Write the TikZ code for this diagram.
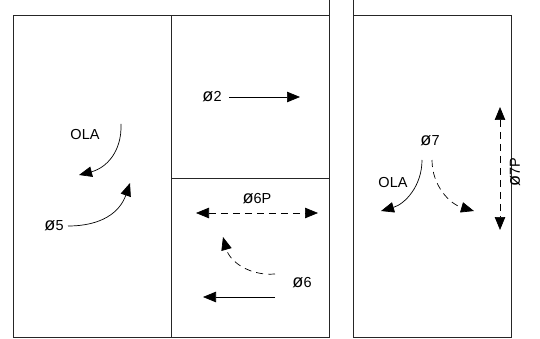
\documentclass[tikz,border=0pt]{standalone}
\usepackage{fontspec}
\setmainfont{Liberation Sans}
\usetikzlibrary{arrows.meta}
\newcommand{\diam}{\scalebox{1.25}{ø}}
\begin{document}
\begin{tikzpicture}[x=1pt,y=-1pt,
  frame/.style={line width=1pt,draw=black!85},
  lbl/.style={inner sep=0pt,font=\fontsize{14.5}{14.5}\selectfont},
  tip/.tip={Triangle[length=13pt,width=10.5pt]},
  arr/.style={line width=0.7pt,-tip},
  darr/.style={arr,dash pattern=on 7pt off 5pt},
  dbl/.style={line width=0.7pt,dash pattern=on 7pt off 5pt,tip-tip}]
\useasboundingbox (0,0) rectangle (540,339);
% frames
\draw[frame] (13,337.5) -- (13,16) -- (329,16);
\draw[frame] (329,0) -- (329,337.5) -- (13,337.5);
\draw[frame] (171,16) -- (171,337.5);
\draw[frame] (171,178) -- (329,178);
\draw[frame] (353,0) -- (353,337.5) -- (511,337.5) -- (511,16) -- (353,16);
% left room
\node[lbl] (ola1) at (85,135) {OLA};
\coordinate (ola1s) at (121,124);
\coordinate (ola1e) at (79,175);
\draw[arr] (ola1s) .. controls (122,152) and (106,168) .. (ola1e);
\node[lbl] (p5) at (54,226) {\diam5};
\coordinate (p5s) at (68,226);
\coordinate (p5e) at (130,183);
\draw[arr] (p5s) .. controls (102,226) and (120,212) .. (p5e);
% top middle
\node[lbl] (p2) at (212,97) {\diam2};
\coordinate (p2s) at (229,97);
\coordinate (p2e) at (300,97);
\draw[arr] (p2s) -- (p2e);
% bottom middle
\node[lbl] (p6p) at (257,199) {\diam6P};
\coordinate (p6pl) at (196,213);
\coordinate (p6pr) at (318,213);
\draw[dbl] (p6pl) -- (p6pr);
\node[lbl] (p6) at (302,283) {\diam6};
\coordinate (p6s) at (275,274);
\coordinate (p6e) at (223,237);
\draw[darr] (p6s) .. controls (250,276) and (230,262) .. (p6e);
\coordinate (p6ls) at (275,297);
\coordinate (p6le) at (203,297);
\draw[arr] (p6ls) -- (p6le);
% right room
\node[lbl] (p7) at (430,141) {\diam7};
\node[lbl] (ola2) at (393,183) {OLA};
\coordinate (p7as) at (422,160);
\coordinate (p7ae) at (381,211);
\draw[arr] (p7as) .. controls (422,186) and (405,204) .. (p7ae);
\coordinate (p7bs) at (432,160);
\coordinate (p7be) at (474,211);
\draw[darr] (p7bs) .. controls (432,186) and (450,204) .. (p7be);
\coordinate (p7pt) at (500,107);
\coordinate (p7pb) at (500,230);
\draw[dbl] (p7pt) -- (p7pb);
\node[lbl,rotate=90] (p7p) at (515,172) {\diam7P};
\end{tikzpicture}
\end{document}
